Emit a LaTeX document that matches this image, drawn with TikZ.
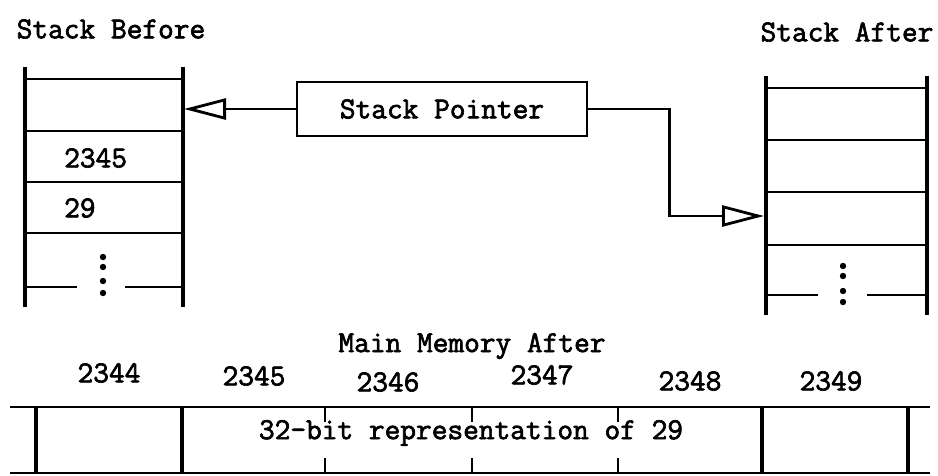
\documentclass[tikz,border=0pt]{standalone}
\usepackage{fontspec}
\setmonofont{Latin Modern Mono}[AutoFakeBold=2.2]
\usetikzlibrary{arrows.meta}

\tikzset{
  wall/.style={line width=3.6pt},
  rule/.style={line width=2.6pt},
  typed/.style={font=\ttfamily\bfseries\fontsize{30.5}{34}\selectfont, inner sep=0pt},
  ptr/.style={line width=2.6pt, -{Triangle[open, length=42pt, width=21pt, line width=2.8pt]}},
}

\begin{document}
\begin{tikzpicture}[x=1pt,y=-1pt]
\useasboundingbox (0,0) rectangle (938,475);

% stack before
\draw[wall] (25,67) -- (25,307);
\draw[wall] (183,67) -- (183,307);
\foreach \y in {79,131,182,233}
    \draw[rule] (25,\y) -- (183,\y);
\draw[rule] (25,287) -- (77,287) (125,287) -- (183,287);
\foreach \y in {257,267,281,293}
    \fill (103,\y) circle (3.2pt);

\node[typed] (before) at (111,29) {Stack Before};
\node[typed, anchor=west] (cellA) at (64,158) {2345};
\node[typed, anchor=west] (cellB) at (64,208) {29};

% stack after
\draw[wall] (766,76) -- (766,315);
\draw[wall] (927,76) -- (927,315);
\foreach \y in {88,140,192,245}
    \draw[rule] (766,\y) -- (927,\y);
\draw[rule] (766,295) -- (818,295) (867,295) -- (927,295);
\foreach \y in {266,276,291,302}
    \fill (843,\y) circle (3.2pt);

\node[typed] (after) at (847,32) {Stack After};

% pointer, old and new top
\node[typed, draw, line width=2.6pt, minimum width=290pt, minimum height=54pt] (sp) at (442,109) {Stack Pointer};
\coordinate (oldtop) at (184,109);
\coordinate (newtop) at (764,216);
\draw[ptr] (sp.west) -- (oldtop);
\draw[ptr] (sp.east) -- ++(81,0) |- (newtop);

% main memory row
\node[typed] (mem) at (472,346) {Main Memory After};
\draw[rule] (10,407) -- (930,407);
\draw[rule] (10,473) -- (930,473);
\foreach \x in {36,182,762,908}
    \draw[wall] (\x,407) -- (\x,473);
\foreach \x in {325,472,618}
    \draw[rule] (\x,407) -- ++(0,15) (\x,473) -- ++(0,-15);

\foreach \x/\y/\a in {109/373/2344, 254/376/2345, 388/382/2346, 542/375/2347, 690/381/2348, 831/381/2349}
    \node[typed] (addr\a) at (\x,\y) {\a};

\node[typed] (word) at (471,433) {32-bit representation of 29};

\end{tikzpicture}
\end{document}
